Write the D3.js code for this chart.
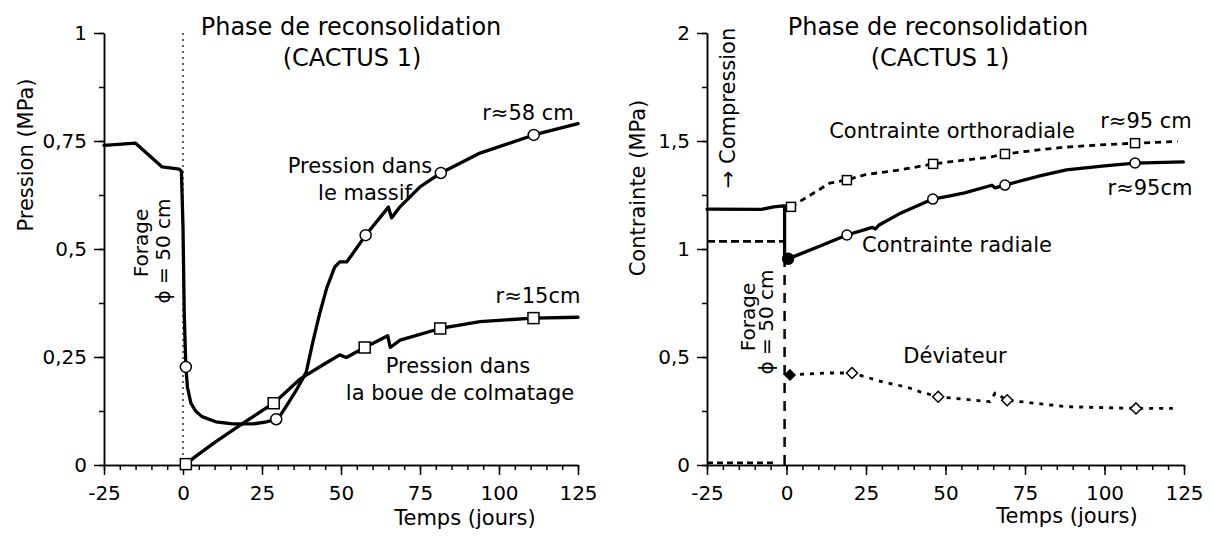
<!DOCTYPE html>
<html><head><meta charset="utf-8">
<script src="https://cdn.jsdelivr.net/npm/d3@7"></script>
<style>
body{margin:0;background:#fff;}
svg{display:block;font-family:"DejaVu Sans",sans-serif;}
</style></head><body>
<svg id="c" width="1214" height="537"></svg>
<script>
// ---------- data ----------
const xTicks = [-25, 0, 25, 50, 75, 100, 125];
const xTickLabels = ["-25", "0", "25", "50", "75", "100", "125"];
const leftYTicks = [0, 0.25, 0.5, 0.75, 1];
const leftYTickLabels = ["0", "0,25", "0,5", "0,75", "1"];
const rightYTicks = [0, 0.5, 1, 1.5, 2];
const rightYTickLabels = ["0", "0,5", "1", "1,5", "2"];
const forageDay = 0;

// Left panel: pression dans le massif (r≈58 cm) [jours, MPa]
const massif = [[-25,0.74],[-15,0.745],[-6.6,0.69],[-1.2,0.685],[-0.5,0.68],[0,0.55],[0.4,0.35],[0.9,0.227],[1.4,0.18],[2.5,0.143],[4,0.125],[6,0.112],[10.4,0.1],[15.7,0.095],[22,0.095],[26,0.099],[29.5,0.106],[31,0.117],[33,0.14],[36,0.175],[39,0.215],[41,0.282],[43.3,0.352],[45.5,0.41],[48,0.458],[49.6,0.47],[51.8,0.47],[53.4,0.486],[57.8,0.532],[65,0.597],[66,0.572],[68.6,0.597],[75,0.644],[81.6,0.676],[94,0.722],[111,0.764],[125,0.79]];
const massifMarkers = [[0.9,0.227],[29.5,0.106],[57.8,0.532],[81.6,0.676],[111,0.764]];
// Left panel: pression dans la boue de colmatage (r≈15 cm)
const boue = [[0.9,0.002],[4,0.02],[10.4,0.054],[18.8,0.096],[28.7,0.143],[36.9,0.198],[39,0.208],[45,0.235],[49.6,0.255],[51.7,0.249],[57.5,0.272],[64.8,0.299],[65.6,0.272],[68.7,0.289],[81.4,0.316],[94,0.332],[110.9,0.34],[125,0.342]];
const boueMarkers = [[0.9,0.002],[28.7,0.143],[57.5,0.272],[81.4,0.316],[110.9,0.34]];

// Right panel: contrainte radiale (r≈95 cm)
const radiale = [[-25,1.185],[-8,1.183],[-4,1.195],[-1,1.2],[-0.6,1.2],[-0.6,0.955],[0.5,0.955],[4,0.975],[10,1.01],[19,1.065],[27,1.1],[28,1.093],[29,1.11],[36,1.167],[46,1.231],[51,1.245],[56,1.26],[64.6,1.295],[65.6,1.283],[68.7,1.296],[80,1.34],[88,1.366],[100,1.385],[109.6,1.398],[124.8,1.403]];
const radialeMarkers = [[19,1.065],[46,1.231],[68.7,1.296],[109.6,1.398]];
const radialeFilled = [[0.5,0.955]];
// Right panel: contrainte orthoradiale (r≈95 cm)
const orthoAvant = [[-25,1.035],[-1,1.035]];
const ortho = [[1.4,1.195],[7,1.245],[13.6,1.305],[19,1.32],[25,1.345],[35.7,1.366],[46.1,1.394],[55,1.41],[64,1.425],[68.7,1.44],[80,1.46],[88,1.472],[100,1.483],[109.6,1.49],[123,1.498]];
const orthoMarkers = [[1.4,1.195],[19,1.319],[46.1,1.394],[68.7,1.44],[109.6,1.49]];
// Right panel: déviateur
const devAvant = [[-25,0.01],[-3.6,0.01]];
const forageTrait = [[-0.6,0],[-0.6,0.955]];
const deviateur = [[1.1,0.417],[12.7,0.426],[20.6,0.426],[30.4,0.384],[37.8,0.361],[42,0.339],[47.7,0.316],[64,0.293],[65.6,0.333],[69.4,0.3],[88,0.27],[109.9,0.262],[121.5,0.262]];
const devMarkers = [[20.6,0.426],[47.7,0.316],[69.4,0.3],[109.9,0.262]];
const devFilled = [[1.1,0.417]];

// ---------- drawing ----------
const svg = d3.select("#c");
const FONT = "DejaVu Sans";

function makePanel(cfg){
  const x = d3.scaleLinear().domain([-25,125]).range([cfg.xl, cfg.xr]);
  const y = d3.scaleLinear().domain([0,cfg.ymax]).range([465,33]);
  const g = svg.append("g");
  const styleAxis = sel => sel.attr("font-size",20).attr("font-family",FONT)
      .call(s=>s.selectAll("path,line").attr("stroke","#000").attr("stroke-width",1.5))
      .call(s=>s.selectAll("text").attr("fill","#000"));
  g.append("g").attr("transform","translate(0,465)")
    .call(d3.axisBottom(x).tickValues(d3.range(-25,126,5)).tickSize(5).tickSizeOuter(0).tickFormat(""))
    .call(styleAxis);
  g.append("g").attr("transform","translate(0,465)")
    .call(d3.axisBottom(x).tickValues(xTicks).tickSize(10).tickSizeOuter(0).tickPadding(11).tickFormat((d,i)=>xTickLabels[i]))
    .call(styleAxis);
  const minor = d3.range(0, cfg.ymax+1e-6, cfg.step/2);
  g.append("g").attr("transform",`translate(${cfg.xl},0)`)
    .call(d3.axisLeft(y).tickValues(minor).tickSize(5).tickSizeOuter(0).tickFormat(""))
    .call(styleAxis);
  g.append("g").attr("transform",`translate(${cfg.xl},0)`)
    .call(d3.axisLeft(y).tickValues(cfg.yTicks).tickSize(10).tickSizeOuter(0).tickPadding(7).tickFormat((d,i)=>cfg.yLabels[i]))
    .call(styleAxis);
  return {g,x,y};
}

function drawLine(p, data, opt){
  const line = d3.line().x(d=>p.x(d[0])).y(d=>p.y(d[1]));
  p.g.append("path").datum(data).attr("d",line)
    .attr("fill","none").attr("stroke","#000")
    .attr("stroke-width",opt.w||3).attr("stroke-linejoin","round").attr("stroke-linecap",opt.cap||"round")
    .attr("stroke-dasharray",opt.dash||null);
}
function circles(p, data, r, fill){
  p.g.selectAll(null).data(data).enter().append("circle")
    .attr("cx",d=>p.x(d[0])).attr("cy",d=>p.y(d[1])).attr("r",r)
    .attr("fill",fill||"#fff").attr("stroke","#000").attr("stroke-width",1.5);
}
function squares(p, data, s){
  p.g.selectAll(null).data(data).enter().append("rect")
    .attr("x",d=>p.x(d[0])-s/2).attr("y",d=>p.y(d[1])-s/2).attr("width",s).attr("height",s)
    .attr("fill","#fff").attr("stroke","#000").attr("stroke-width",1.5);
}
function diamonds(p, data, s, fill){
  p.g.selectAll(null).data(data).enter().append("path")
    .attr("d",d=>{const cx=p.x(d[0]),cy=p.y(d[1]);return `M${cx},${cy-s}L${cx+s},${cy}L${cx},${cy+s}L${cx-s},${cy}Z`;})
    .attr("fill",fill||"#fff").attr("stroke","#000").attr("stroke-width",1.5);
}
function txt(x,y,s,size,opts){
  opts=opts||{};
  const t = svg.append("text").attr("x",opts.rot?0:x).attr("y",opts.rot?0:y)
    .attr("font-family",FONT).attr("font-size",size).attr("fill","#000")
    .attr("text-anchor",opts.anchor||"middle").text(s);
  if(opts.rot) t.attr("transform",`translate(${x},${y}) rotate(-90)`);
  return t;
}

// Left panel
const L = makePanel({xl:104, xr:578, ymax:1, step:0.25, yTicks:leftYTicks, yLabels:leftYTickLabels});
L.g.append("line").attr("x1",L.x(forageDay)).attr("x2",L.x(forageDay)).attr("y1",L.y(1)).attr("y2",L.y(0))
  .attr("stroke","#000").attr("stroke-width",1.2).attr("stroke-dasharray","2,4");
drawLine(L, massif, {w:3.3});
drawLine(L, boue, {w:3.3});
circles(L, massifMarkers, 5.5);
squares(L, boueMarkers, 11);

// Right panel
const R = makePanel({xl:707, xr:1184, ymax:2, step:0.5, yTicks:rightYTicks, yLabels:rightYTickLabels});
drawLine(R, forageTrait, {w:2.5, dash:"10,8", cap:"butt"});
drawLine(R, orthoAvant, {w:2.8, dash:"8,4", cap:"butt"});
drawLine(R, devAvant, {w:2.8, dash:"6,4", cap:"butt"});
drawLine(R, radiale, {w:3.3});
drawLine(R, ortho, {w:2.8, dash:"6,5", cap:"butt"});
drawLine(R, deviateur, {w:2.8, dash:"4,6", cap:"butt"});
circles(R, radialeMarkers, 5);
circles(R, radialeFilled, 5.5, "#000");
squares(R, orthoMarkers, 9);
diamonds(R, devMarkers, 5.5);
diamonds(R, devFilled, 5, "#000");

// Text - left
txt(351,35,"Phase de reconsolidation",24);
txt(352,66,"(CACTUS 1)",24);
txt(33,155,"Pression (MPa)",21,{rot:true});
txt(465,525,"Temps (jours)",21);
txt(528,120,"r≈58 cm",21);
txt(360,173,"Pression dans",21);
txt(365,200,"le massif",21);
txt(538,303,"r≈15cm",21);
txt(458,373,"Pression dans",21);
txt(460,400,"la boue de colmatage",21);
txt(148,243,"Forage",20,{rot:true});
txt(170,251,"ϕ = 50 cm",20,{rot:true});

// Text - right
txt(938,35,"Phase de reconsolidation",24);
txt(940,66,"(CACTUS 1)",24);
txt(645,188,"Contrainte (MPa)",21,{rot:true});
txt(735,108,"→ Compression",21,{rot:true});
txt(1067,523,"Temps (jours)",21);
txt(952,138,"Contrainte orthoradiale",21);
txt(1146,128,"r≈95 cm",21);
txt(1150,195,"r≈95cm",21);
txt(957,252,"Contrainte radiale",21);
txt(955,363,"Déviateur",21);
txt(755,317,"Forage",20,{rot:true});
txt(773,322,"ϕ = 50 cm",20,{rot:true});
</script>
</body></html>
